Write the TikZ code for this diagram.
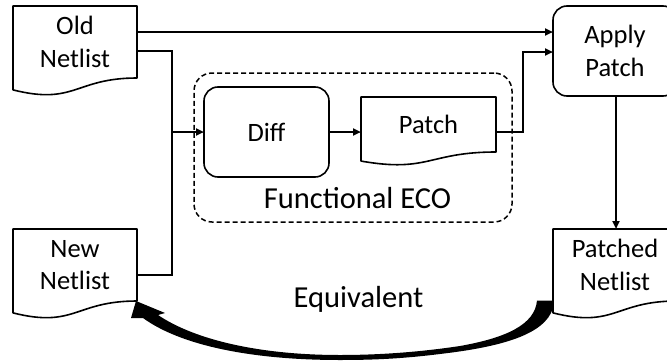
\documentclass[tikz,border=0pt]{standalone}
\usepackage{fontspec}
\setmainfont{Carlito}
\usetikzlibrary{arrows.meta,calc}

% outline of a flowchart "document" shape around a text node
% #1 = node name, #2 = full shape height
\newcommand\docoutline[2]{%
  \draw[boxline] (#1.north west) -- (#1.north east) -- (#1.south east)
    .. controls (#1.south) and ($(#1.south)+(0,0.3055*#2)$)
    .. ($(#1.south west)+(0,0.132*#2)$) -- cycle;}

\begin{document}
\begin{tikzpicture}[x=1pt,y=-1pt,
  every node/.style={inner sep=0pt, outer sep=0pt, align=center},
  txt/.style={font=\fontsize{26.5}{32.5}\selectfont},
  bigtxt/.style={font=\fontsize{30.5}{36}\selectfont},
  boxline/.style={line width=1.6pt, line join=round},
  rbox/.style={txt, draw, boxline, rounded corners=14pt,
    minimum width=#1, minimum height=90pt},
  doctext/.style={txt, minimum width=#1},
  conn/.style={line width=2.2pt},
  arr/.style={conn, -{Triangle[length=8pt,width=7pt]}},
  group/.style={draw, line width=1.5pt, dash pattern=on 5pt off 3pt,
    rounded corners=18pt, minimum width=318pt, minimum height=149pt}
]
\useasboundingbox (0,0) rectangle (667,362);

% ECO group frame
\node[group] (eco) at (353,147.5) {};
\node[bigtxt, anchor=base] (ecolabel) at (357.5,208) {Functional ECO};

% netlists (document shapes)
\node[doctext=124pt, minimum height=72pt] (old) at (75,42) {Old\\Netlist};
\docoutline{old}{90}
\node[doctext=124pt, minimum height=72pt] (new) at (75,265) {New\\Netlist};
\docoutline{new}{90}
\node[doctext=135pt, minimum height=55pt] (patch) at (428.5,124.5) {Patch};
\docoutline{patch}{68.6}
\node[doctext=124pt, minimum height=72pt] (patched) at (615,265) {Patched\\Netlist};
\docoutline{patched}{90}

% process steps
\node[rbox=125pt] (diff) at (266.5,132) {Diff};
\node[rbox=124pt] (apply) at (615,51) {Apply\\Patch};

% connectors
\coordinate (o1) at ([yshift=10pt]old.east);
\coordinate (o2) at ([yshift=-9pt]old.east);
\coordinate (n2) at ([yshift=-10pt]new.east);
\draw[arr] (o1) -- (o1 -| apply.west);
\draw[conn] (o2) -- ++(35,0) coordinate (join) |- (n2);
\draw[arr] (join |- diff.west) -- (diff.west);
\draw[arr] (diff.east) -- (diff.east -| patch.west);
\draw[arr] (diff.east -| patch.east) -- ++(27,0) |- ([yshift=-1pt]apply.west);
\draw[arr] ([xshift=1pt]apply.south) -- ([xshift=1pt]patched.north);

% curved block arrow back to the new netlist
\node[bigtxt, anchor=base] (equiv) at (358.5,307) {Equivalent};
\fill (553,300.5) -- (537,300.5)
  .. controls (535,325) and (505,338) .. (460,346)
  .. controls (420,352) and (380,355) .. (340,355)
  .. controls (260,355) and (195,340) .. (158,315)
  -- (165,313) -- (136,301) -- (131,318) -- (143,318)
  .. controls (180,345) and (250,360) .. (340,360)
  .. controls (370,360) and (400,359) .. (440,354)
  .. controls (500,347) and (545,335) .. (553,308) -- cycle;
\end{tikzpicture}
\end{document}
